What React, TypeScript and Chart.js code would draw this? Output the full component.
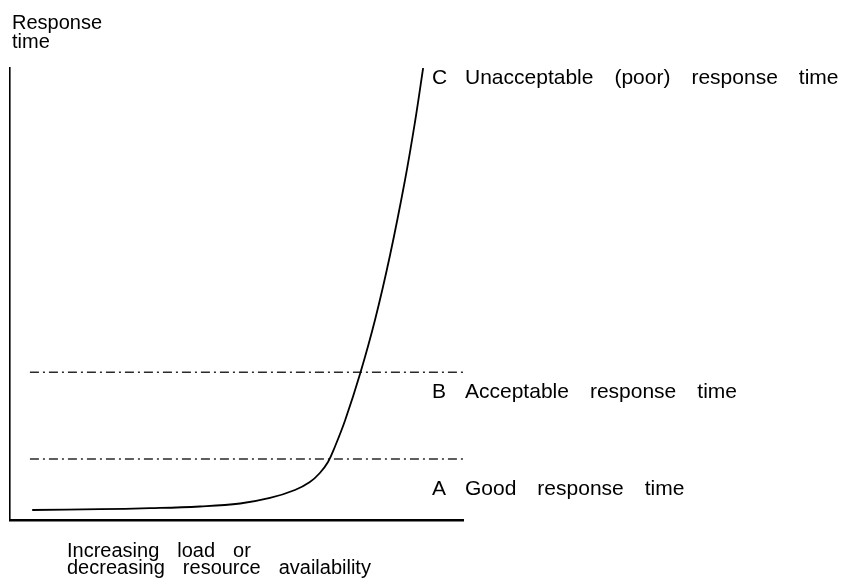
import React, { useEffect, useRef } from "react";
import { Chart, registerables } from "chart.js";

Chart.register(...registerables);

// Load (x, % of axis) and response time (y, % of axis)
const loadValues = [4.9, 19.9, 30.9, 41.9, 50.8, 57.4, 62.9, 66.2, 68.4, 70.2, 71.7, 74.0, 77.3, 80.6, 83.9, 87.2, 89.4, 91.2];
const responseValues = [2.21, 2.39, 2.61, 2.99, 3.65, 4.87, 6.64, 8.41, 10.4, 12.83, 16.15, 22.12, 32.41, 44.36, 58.63, 75.22, 88.05, 100];
// Threshold levels: A (good) and B (acceptable)
const thresholdLevels = [13.5, 32.7];
const thresholdSpan = [4.4, 100.4];
const zoneLetters = ["A", "B", "C"];
const zoneTexts = ["Good response time", "Acceptable response time", "Unacceptable (poor) response time"];
const yTitleLines = ["Response", "time"];
const xTitleLines = ["Increasing load or", "decreasing resource availability"];

const FONT_FAMILY = '"Liberation Sans", Arial, Helvetica, sans-serif';

function drawWords(ctx: CanvasRenderingContext2D, text: string, x: number, y: number, gap: number) {
  let cx = x;
  for (const w of text.split(" ")) {
    ctx.fillText(w, cx, y);
    cx += ctx.measureText(w).width + gap;
  }
}

const textPlugin = {
  id: "textPlugin",
  afterDraw(chart: any) {
    const { ctx, chartArea } = chart;
    const yScale = chart.scales.y;
    ctx.save();
    ctx.fillStyle = "#000";
    ctx.textAlign = "left";
    ctx.textBaseline = "alphabetic";
    ctx.font = `21px ${FONT_FAMILY}`;
    const labelX = chartArea.right - 31;
    const baselines = [
      yScale.getPixelForValue(thresholdLevels[0]) + 36,
      yScale.getPixelForValue(thresholdLevels[1]) + 26,
      chartArea.top + 16,
    ];
    zoneLetters.forEach((letter, i) => {
      ctx.fillText(letter, labelX, baselines[i]);
      drawWords(ctx, zoneTexts[i], labelX + 33, baselines[i], 21);
    });

    ctx.font = `20px ${FONT_FAMILY}`;
    yTitleLines.forEach((line, i) => {
      drawWords(ctx, line, chartArea.left + 2, 29 + i * 19, 10);
    });
    xTitleLines.forEach((line, i) => {
      drawWords(ctx, line, chartArea.left + 57, chartArea.bottom + 37 + i * 17, 18);
    });
    ctx.restore();
  },
};

export default function App() {
  const canvasRef = useRef<HTMLCanvasElement | null>(null);

  useEffect(() => {
    const canvas = canvasRef.current;
    if (!canvas) return;
    const curve = loadValues.map((x, i) => ({ x, y: responseValues[i] }));
    const chart = new Chart(canvas, {
      type: "line",
      data: {
        datasets: [
          {
            data: curve,
            borderColor: "#000",
            borderWidth: 1.8,
            pointRadius: 0,
            fill: false,
            tension: 0.4,
          } as any,
          ...thresholdLevels.map((level) => ({
            data: thresholdSpan.map((x) => ({ x, y: level })),
            borderColor: "#2a2a2a",
            borderWidth: 1.4,
            borderDash: [9, 4, 2, 4],
            pointRadius: 0,
            fill: false,
            clip: false,
          })),
        ],
      },
      options: {
        responsive: false,
        animation: false,
        events: [],
        layout: { padding: { left: 10, top: 68, right: 385, bottom: 60 } },
        plugins: { legend: { display: false }, tooltip: { enabled: false } },
        scales: {
          x: {
            type: "linear",
            min: 0,
            max: 100,
            ticks: { display: false },
            grid: { display: false, drawTicks: false },
            border: { display: true, color: "#000", width: 2.4 },
          },
          y: {
            type: "linear",
            min: 0,
            max: 100,
            ticks: { display: false },
            grid: { display: false, drawTicks: false },
            border: { display: true, color: "#000", width: 1.6 },
          },
        },
      },
      plugins: [textPlugin],
    });
    return () => chart.destroy();
  }, []);

  return (
    <div style={{ position: "fixed", left: 0, top: 0, width: 848, height: 580, background: "#fff" }}>
      <canvas ref={canvasRef} width={848} height={580} style={{ display: "block" }} />
    </div>
  );
}
